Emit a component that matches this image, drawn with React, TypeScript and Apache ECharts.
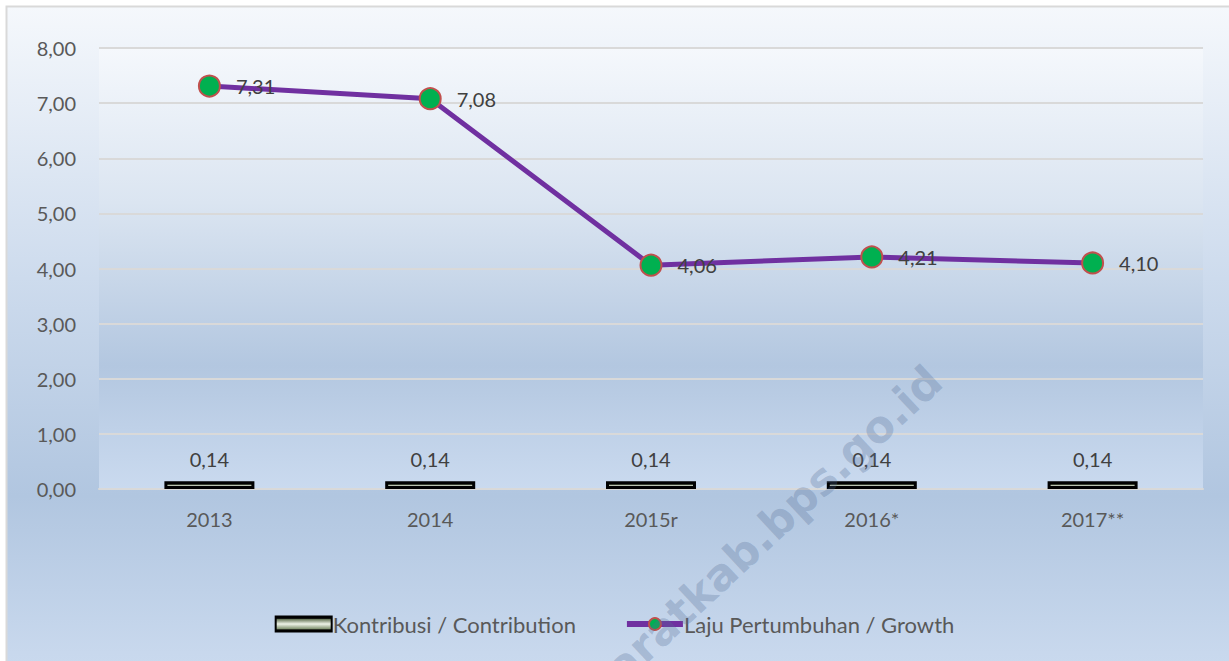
import React, { useEffect, useRef } from "react";
import * as echarts from "echarts";

const categories = ["2013", "2014", "2015r", "2016*", "2017**"];
const contribution = [0.14, 0.14, 0.14, 0.14, 0.14];
const growth = [7.31, 7.08, 4.06, 4.21, 4.1];
const seriesNames = ["Kontribusi / Contribution", "Laju Pertumbuhan / Growth"];

const FONT = "Lato, 'Open Sans', sans-serif";
const fmt = (v: number) => v.toFixed(2).replace(".", ",");

export default function App() {
  const ref = useRef<HTMLDivElement>(null);
  useEffect(() => {
    document.body.style.margin = "0";
    const chart = echarts.init(ref.current!, null, { renderer: "svg" });
    const bg = (stops: [number, string][]) =>
      new echarts.graphic.LinearGradient(0, 0, 0, 1, stops.map(([offset, color]) => ({ offset, color })));
    const barFill = bg([
      [0, "#000000"],
      [0.3, "#000000"],
      [0.4, "#6f7d60"],
      [0.7, "#eef3e8"],
      [1, "#a5b595"],
    ]);
    const legendFill = bg([
      [0, "#000000"],
      [0.12, "#000000"],
      [0.2, "#6f7d60"],
      [0.5, "#eef3e8"],
      [0.8, "#8a9a7a"],
      [0.9, "#000000"],
      [1, "#000000"],
    ]);
    chart.setOption({
      animation: false,
      backgroundColor: "#ffffff",
      textStyle: { fontFamily: FONT },
      graphic: [
        {
          type: "rect",
          z: -10,
          shape: { x: 6.5, y: 6.5, width: 1240, height: 680 },
          style: {
            fill: bg([
              [0, "#f5f8fc"],
              [0.4, "#cddbed"],
              [0.72, "#b1c6e0"],
              [0.95, "#c8d8ed"],
              [1, "#cbdbef"],
            ]),
            stroke: "#d9d9d9",
            lineWidth: 2,
          },
          silent: true,
        },
        {
          type: "text",
          z: 100,
          x: 628,
          y: 690,
          rotation: (43 * Math.PI) / 180,
          style: {
            text: "aratkab.bps.go.id",
            fontSize: 44,
            fontWeight: "bold",
            fontFamily: "'DejaVu Sans', sans-serif",
            fill: "rgba(85,110,150,0.3)",
            verticalAlign: "bottom",
          },
          silent: true,
        },
      ],
      grid: {
        left: 99,
        right: 26,
        top: 48,
        bottom: 172,
        show: true,
        borderWidth: 0,
        backgroundColor: bg([
          [0, "#f5f8fc"],
          [0.35, "#dbe5f1"],
          [0.72, "#b3c7e0"],
          [1, "#cadaef"],
        ]),
      },
      legend: {
        bottom: 21,
        left: "center",
        itemGap: 48,
        itemWidth: 56,
        itemHeight: 15,
        textStyle: { fontSize: 22, color: "#595959", fontFamily: FONT, padding: [0, 0, 0, -4] },
        data: [
          {
            name: seriesNames[0],
            icon: "rect",
            itemStyle: { color: legendFill, borderColor: "#000000", borderWidth: 2 },
          },
          {
            name: seriesNames[1],
            lineStyle: { width: 6, color: "#7030a0" },
          },
        ],
      },
      xAxis: {
        type: "category",
        data: categories,
        axisLine: { lineStyle: { color: "#d9d9d9", width: 2 } },
        axisTick: { show: false },
        axisLabel: { fontSize: 20, color: "#595959", margin: 20 },
      },
      yAxis: {
        type: "value",
        min: 0,
        max: 8,
        interval: 1,
        axisLine: { show: false },
        axisTick: { show: false },
        splitLine: { lineStyle: { color: "#d9d9d9", width: 2 } },
        axisLabel: { fontSize: 20, color: "#595959", margin: 23, formatter: (v: number) => fmt(v) },
      },
      series: [
        {
          name: seriesNames[0],
          type: "bar",
          data: contribution,
          barWidth: 90,
          itemStyle: {
            color: barFill,
            borderColor: "#000000",
            borderWidth: 3,
          },
          label: {
            show: true,
            position: "top",
            distance: 12,
            fontSize: 20,
            color: "#404040",
            formatter: (p: any) => fmt(p.value),
          },
        },
        {
          name: seriesNames[1],
          type: "line",
          data: growth,
          symbol: "circle",
          symbolSize: 21,
          lineStyle: { color: "#7030a0", width: 5 },
          itemStyle: { color: "#00b050", borderColor: "#c0504d", borderWidth: 2 },
          label: {
            show: true,
            position: "right",
            distance: 15,
            fontSize: 20,
            color: "#404040",
            formatter: (p: any) => fmt(p.value),
          },
          z: 5,
        },
      ],
    });
    return () => chart.dispose();
  }, []);
  return <div ref={ref} style={{ width: 1229, height: 661 }} />;
}
